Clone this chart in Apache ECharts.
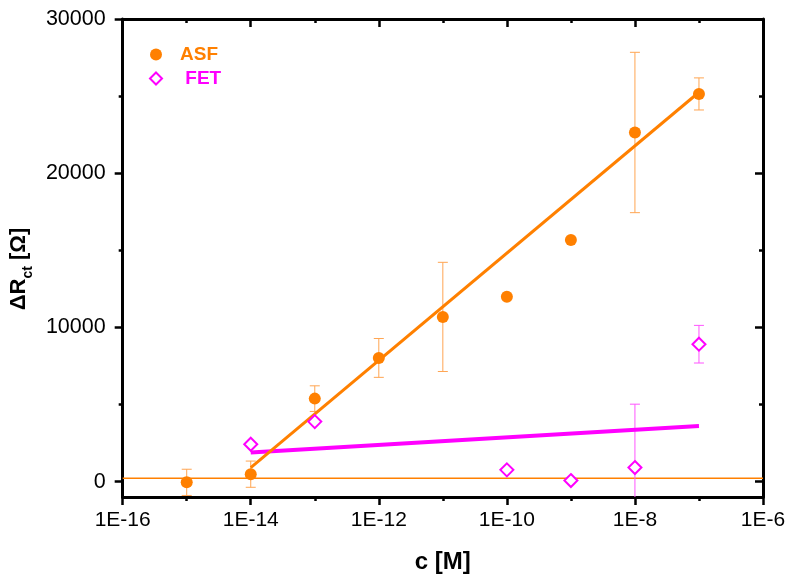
<!DOCTYPE html>
<html>
<head>
<meta charset="utf-8">
<script src="https://cdn.jsdelivr.net/npm/echarts@6/dist/echarts.min.js"></script>
<style>
  html, body { margin: 0; background: #fff; }
  #main { width: 800px; height: 583px; }
</style>
</head>
<body>
<div id="main"></div>
<script>
// values
const asfConc = [1e-15, 1e-14, 1e-13, 1e-12, 1e-11, 1e-10, 1e-9, 1e-8, 1e-7];
const asfVal = [-50, 480, 5380, 8020, 10680, 11980, 15670, 22640, 25140];
const asfErr = [850, 850, 830, 1260, 3540, 0, 0, 5200, 1040];

const fetConc = [1e-14, 1e-13, 1e-10, 1e-9, 1e-8, 1e-7];
const fetVal = [2420, 3890, 760, 65, 910, 8910];
const fetErr = [0, 0, 0, 0, 4110, 1220];

// linear fits (in log c) and the baseline
const fitConc = [1e-14, 1e-7];
const asfFit = [900, 25250];
const fetFit = [1880, 3610];
const baseConc = [1e-16, 1e-6];
const baseVal = [220, 220];

const yMajor = [0, 10000, 20000, 30000];
const yMinor = [5000, 15000, 25000];

const FONT = "'Liberation Sans', Arial, sans-serif";
const ORANGE = "#FF8000";
const MAGENTA = "#FF00FF";

function pairs(xs, ys) {
  return xs.map((x, i) => [x, ys[i]]);
}

function errorBars(xs, ys, errs, color) {
  const data = [];
  xs.forEach((x, i) => {
    if (errs[i] > 0) data.push([x, ys[i] - errs[i], ys[i] + errs[i]]);
  });
  return {
    type: "custom",
    data: data,
    clip: true,
    z: 2,
    silent: true,
    encode: { x: 0, y: [1, 2] },
    renderItem: function (params, api) {
      const lo = api.coord([api.value(0), api.value(1)]);
      const hi = api.coord([api.value(0), api.value(2)]);
      const w = 5;
      const style = { stroke: color, lineWidth: 1 };
      return {
        type: "group",
        children: [
          { type: "line", shape: { x1: lo[0], y1: lo[1], x2: hi[0], y2: hi[1] }, style: style },
          { type: "line", shape: { x1: hi[0] - w, y1: hi[1], x2: hi[0] + w, y2: hi[1] }, style: style },
          { type: "line", shape: { x1: lo[0] - w, y1: lo[1], x2: lo[0] + w, y2: lo[1] }, style: style },
        ],
      };
    },
  };
}

function logAxis(position, interval, tickLen, inside, showLine, showLabel) {
  return {
    type: "log",
    logBase: 10,
    min: 1e-16,
    max: 1e-6,
    interval: interval,
    position: position,
    axisLine: { show: showLine, onZero: false, lineStyle: { color: "#000", width: 3 } },
    axisTick: { show: true, inside: inside, length: tickLen, lineStyle: { color: "#000", width: 2.5 } },
    axisLabel: {
      show: showLabel,
      fontSize: 21,
      color: "#000",
      fontFamily: FONT,
      margin: 13,
      formatter: (v) => "1E" + Math.round(Math.log10(v)),
    },
    splitLine: { show: false },
    minorTick: { show: false },
  };
}

function valAxis(position, ticks, tickLen, inside, showLine, showLabel) {
  return {
    type: "value",
    min: -1000,
    max: 30000,
    position: position,
    axisLine: { show: showLine, onZero: false, lineStyle: { color: "#000", width: 3 } },
    axisTick: { show: true, customValues: ticks, inside: inside, length: tickLen, lineStyle: { color: "#000", width: 2.5 } },
    axisLabel: {
      show: showLabel,
      customValues: ticks,
      fontSize: 21.5,
      color: "#000",
      fontFamily: FONT,
      margin: 17,
      formatter: (v) => String(v),
    },
    splitLine: { show: false },
  };
}

const xBottom = logAxis("bottom", 2, 8, false, true, true);
xBottom.name = "c [M]";
xBottom.nameLocation = "middle";
xBottom.nameGap = 53;
xBottom.nameTextStyle = { fontSize: 24, fontWeight: "bold", color: "#000", fontFamily: FONT };

const yLeft = valAxis("left", yMajor, 8, false, true, true);
yLeft.name = "{b|ΔR}{s|ct}{b| [Ω]}";
yLeft.nameLocation = "middle";
yLeft.nameGap = 82;
yLeft.nameTextStyle = {
  padding: [0, 22, 0, 0],
  rich: {
    b: { fontSize: 22, fontWeight: "bold", color: "#000", fontFamily: FONT, lineHeight: 27, verticalAlign: "top" },
    s: { fontSize: 14, fontWeight: "bold", color: "#000", fontFamily: FONT, lineHeight: 27, verticalAlign: "bottom" },
  },
};

const chart = echarts.init(document.getElementById("main"));
chart.setOption({
  animation: false,
  backgroundColor: "#fff",
  grid: { left: 121, right: 37, top: 19, bottom: 86 },
  legend: {
    orient: "vertical",
    left: 144,
    top: 40,
    itemGap: 5,
    itemWidth: 12,
    itemHeight: 12,
    data: [
      { name: "ASF", textStyle: { color: ORANGE } },
      { name: "FET", textStyle: { color: MAGENTA } },
    ],
    formatter: (n) => (n === "FET" ? " " + n : n),
    textStyle: { fontSize: 19, fontWeight: "bold", fontFamily: FONT, padding: [0, 0, 0, 13] },
  },
  xAxis: [
    xBottom,
    logAxis("bottom", 1, 4, false, false, false),
    logAxis("top", 2, 8, true, true, false),
    logAxis("top", 1, 4, true, false, false),
  ],
  yAxis: [
    yLeft,
    valAxis("left", yMinor, 4, false, false, false),
    valAxis("right", yMajor, 8, true, true, false),
    valAxis("right", yMinor, 4, true, false, false),
  ],
  series: [
    {
      type: "line",
      data: pairs(baseConc, baseVal),
      symbol: "none",
      silent: true,
      z: 1,
      lineStyle: { color: ORANGE, width: 1.5 },
    },
    errorBars(asfConc, asfVal, asfErr, "#FFA552"),
    errorBars(fetConc, fetVal, fetErr, "#FF55FF"),
    {
      type: "line",
      data: pairs(fitConc, fetFit),
      symbol: "none",
      silent: true,
      z: 3,
      lineStyle: { color: MAGENTA, width: 4 },
    },
    {
      type: "line",
      data: pairs(fitConc, asfFit),
      symbol: "none",
      silent: true,
      z: 3,
      lineStyle: { color: ORANGE, width: 3 },
    },
    {
      name: "ASF",
      type: "scatter",
      data: pairs(asfConc, asfVal),
      symbol: "circle",
      symbolSize: 12,
      z: 5,
      itemStyle: { color: ORANGE, opacity: 1 },
    },
    {
      name: "FET",
      type: "scatter",
      data: pairs(fetConc, fetVal),
      symbol: "emptyDiamond",
      symbolSize: 13,
      z: 5,
      itemStyle: { color: MAGENTA, borderColor: MAGENTA, borderWidth: 1.2, opacity: 1 },
    },
  ],
});
</script>
</body>
</html>
